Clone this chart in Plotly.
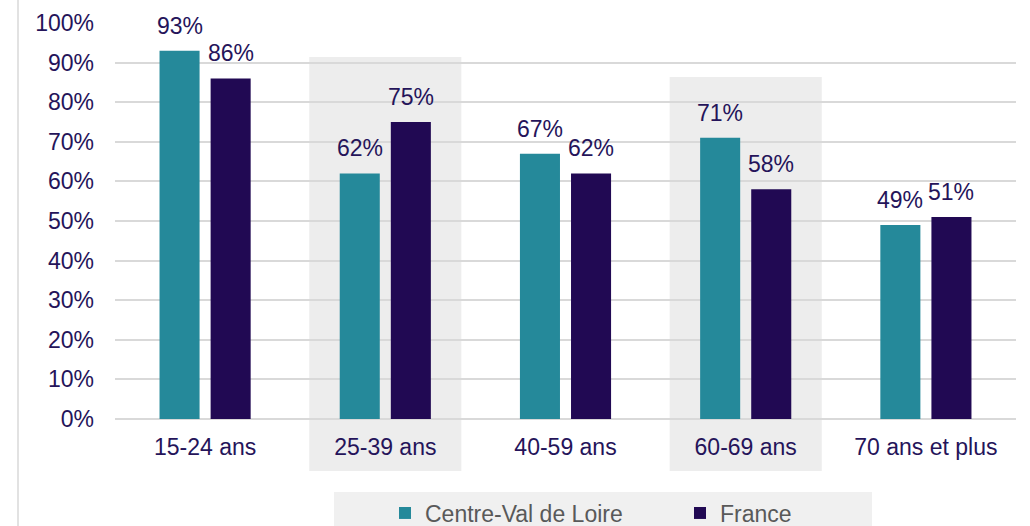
import plotly.graph_objects as go

categories = ["15-24 ans", "25-39 ans", "40-59 ans", "60-69 ans", "70 ans et plus"]
centre_val_de_loire = [93, 62, 67, 71, 49]
france = [86, 75, 62, 58, 51]
series_names = ["Centre-Val de Loire", "France"]
y_ticks = [0, 10, 20, 30, 40, 50, 60, 70, 80, 90, 100]
y_tick_labels = [f"{v}%" for v in y_ticks]
shaded_categories = ["25-39 ans", "60-69 ans"]

TEAL = "#25899A"
NAVY = "#210953"
TEXT = "#25145A"
GRID = "#D9D9D9"
FONT = "Arial, Liberation Sans, sans-serif"
FS = 23

W, H = 1030, 526
L, R, T, B = 115, 14, 23, 107
plot_w = W - L - R
plot_h = H - T - B

fig = go.Figure()
fig.add_trace(go.Bar(x=categories, y=centre_val_de_loire, name=series_names[0],
                     marker=dict(color=TEAL, line=dict(width=0))))
fig.add_trace(go.Bar(x=categories, y=france, name=series_names[1],
                     marker=dict(color=NAVY, line=dict(width=0))))

bargap = 0.433
bargroupgap = 0.216
slot = (1 - bargap) / 2
offsets = [-slot / 2, slot / 2]

annotations = []
for s, vals in enumerate([centre_val_de_loire, france]):
    for i, v in enumerate(vals):
        annotations.append(dict(x=i + offsets[s], y=v, xref="x", yref="y",
                                text=f"{v}%", showarrow=False, yanchor="middle",
                                yshift=25, font=dict(family=FONT, size=FS, color=TEXT)))

def px_to_paper_y(py):
    return (H - B - py) / plot_h

def px_to_paper_x(px):
    return (px - L) / plot_w

shapes = []
shade_tops = {"25-39 ans": 57, "60-69 ans": 77}
n = len(categories)
for c in shaded_categories:
    i = categories.index(c)
    shapes.append(dict(type="rect", xref="paper", yref="paper",
                       x0=(i + 0.5 - 0.422) / n, x1=(i + 0.5 + 0.422) / n,
                       y0=px_to_paper_y(471), y1=px_to_paper_y(shade_tops[c]),
                       fillcolor="#EDEDED", line=dict(width=0), layer="below"))
# legend background
shapes.append(dict(type="rect", xref="paper", yref="paper",
                   x0=px_to_paper_x(334), x1=px_to_paper_x(872),
                   y0=px_to_paper_y(530), y1=px_to_paper_y(492),
                   fillcolor="#F0F0F0", line=dict(width=0), layer="below"))
# left border line
shapes.append(dict(type="line", xref="paper", yref="paper",
                   x0=px_to_paper_x(18), x1=px_to_paper_x(18),
                   y0=px_to_paper_y(530), y1=px_to_paper_y(-5),
                   line=dict(color=GRID, width=1.5), layer="below"))

fig.update_layout(
    width=W, height=H,
    margin=dict(l=L, r=R, t=T, b=B, autoexpand=False),
    paper_bgcolor="white", plot_bgcolor="rgba(0,0,0,0)",
    barmode="group", bargap=bargap, bargroupgap=bargroupgap,
    font=dict(family=FONT, size=FS, color=TEXT),
    annotations=annotations, shapes=shapes,
    legend=dict(orientation="h", x=px_to_paper_x(385), xanchor="left",
                y=px_to_paper_y(513), yanchor="middle",
                bgcolor="rgba(0,0,0,0)", font=dict(family=FONT, size=FS, color="#595959"),
                entrywidth=250, entrywidthmode="pixels", itemwidth=30,
                traceorder="normal"),
    xaxis=dict(showgrid=False, showline=False, zeroline=False, ticks="",
               ticklabelstandoff=12, tickfont=dict(size=FS, color=TEXT), fixedrange=True),
    yaxis=dict(range=[0, 100], tickvals=y_ticks, ticktext=y_tick_labels,
               showgrid=True, gridcolor=GRID, gridwidth=1.5, zeroline=True,
               zerolinecolor=GRID, zerolinewidth=1.5, showline=False, ticks="",
               ticklabelstandoff=20, tickfont=dict(size=FS, color=TEXT), fixedrange=True),
)

fig.write_html("out.html", config={"displayModeBar": False},
               post_script="document.body.style.margin='0';document.body.style.overflow='hidden';")
